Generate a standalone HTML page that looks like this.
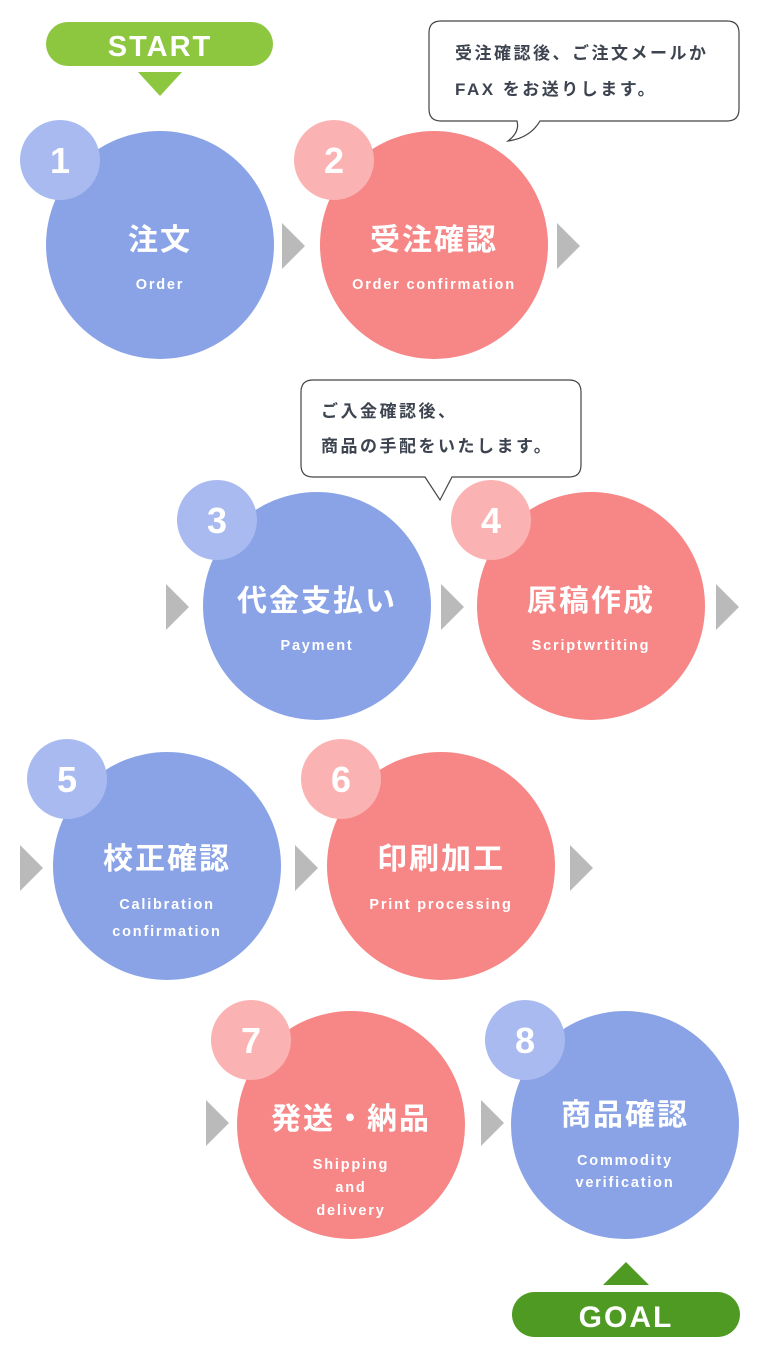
<!DOCTYPE html>
<html><head><meta charset="utf-8"><style>
html,body{margin:0;padding:0;background:#fff}
svg{display:block}
text{font-family:"Liberation Sans","Noto Sans CJK JP",sans-serif}
.j{font-size:30px;font-weight:bold;fill:#fff;text-anchor:middle;letter-spacing:2px}
.e{font-size:14.5px;font-weight:bold;fill:#fff;text-anchor:middle;letter-spacing:1.8px}
.n{font-size:36px;font-weight:bold;fill:#fff;text-anchor:middle}
.b{font-size:17px;fill:#3d4450;font-weight:bold;letter-spacing:2.5px}
</style></head><body>
<svg width="760" height="1357" viewBox="0 0 760 1357">
<rect x="46" y="22" width="227" height="44" rx="22" fill="#8dc63f"/>
<text x="160" y="56" font-size="29" font-weight="bold" fill="#fff" text-anchor="middle" letter-spacing="2" style="font-family:'Liberation Sans',sans-serif">START</text>
<polygon points="138,72 182,72 160,96" fill="#8dc63f"/>

<path d="M441,21 H727 Q739,21 739,33 V109 Q739,121 727,121 H540 Q530,138 508,141 Q520,132 517,121 H441 Q429,121 429,109 V33 Q429,21 441,21 Z" fill="#fff" stroke="#444" stroke-width="1.2"/>
<text class="b" x="455" y="59">受注確認後、ご注文メールか</text>
<text class="b" x="455" y="95">FAX をお送りします。</text>

<path d="M313,380 H569 Q581,380 581,392 V465 Q581,477 569,477 H452 L440,500 L425,477 H313 Q301,477 301,465 V392 Q301,380 313,380 Z" fill="#fff" stroke="#444" stroke-width="1.2"/>
<text class="b" x="321" y="417">ご入金確認後、</text>
<text class="b" x="321" y="452">商品の手配をいたします。</text>

<g fill="#bababa">
<polygon points="282,223 305,246 282,269"/>
<polygon points="557,223 580,246 557,269"/>
<polygon points="166,584 189,607 166,630"/>
<polygon points="441,584 464,607 441,630"/>
<polygon points="716,584 739,607 716,630"/>
<polygon points="20,845 43,868 20,891"/>
<polygon points="295,845 318,868 295,891"/>
<polygon points="570,845 593,868 570,891"/>
<polygon points="206,1100 229,1123 206,1146"/>
<polygon points="481,1100 504,1123 481,1146"/>
</g>

<circle cx="160" cy="245" r="114" fill="#8aa3e6"/>
<circle cx="60" cy="160" r="40" fill="#a9baf0"/>
<text class="n" x="60" y="173">1</text>
<text class="j" x="160" y="250">注文</text>
<text class="e" x="160" y="289">Order</text>

<circle cx="434" cy="245" r="114" fill="#f78686"/>
<circle cx="334" cy="160" r="40" fill="#fbb2b2"/>
<text class="n" x="334" y="173">2</text>
<text class="j" x="434" y="250">受注確認</text>
<text class="e" x="434" y="289">Order confirmation</text>

<circle cx="317" cy="606" r="114" fill="#8aa3e6"/>
<circle cx="217" cy="520" r="40" fill="#a9baf0"/>
<text class="n" x="217" y="533">3</text>
<text class="j" x="317" y="611">代金支払い</text>
<text class="e" x="317" y="650">Payment</text>

<circle cx="591" cy="606" r="114" fill="#f78686"/>
<circle cx="491" cy="520" r="40" fill="#fbb2b2"/>
<text class="n" x="491" y="533">4</text>
<text class="j" x="591" y="611">原稿作成</text>
<text class="e" x="591" y="650">Scriptwrtiting</text>

<circle cx="167" cy="866" r="114" fill="#8aa3e6"/>
<circle cx="67" cy="779" r="40" fill="#a9baf0"/>
<text class="n" x="67" y="792">5</text>
<text class="j" x="167" y="869">校正確認</text>
<text class="e" x="167" y="909">Calibration</text>
<text class="e" x="167" y="936">confirmation</text>

<circle cx="441" cy="866" r="114" fill="#f78686"/>
<circle cx="341" cy="779" r="40" fill="#fbb2b2"/>
<text class="n" x="341" y="792">6</text>
<text class="j" x="441" y="869">印刷加工</text>
<text class="e" x="441" y="909">Print processing</text>

<circle cx="351" cy="1125" r="114" fill="#f78686"/>
<circle cx="251" cy="1040" r="40" fill="#fbb2b2"/>
<text class="n" x="251" y="1053">7</text>
<text class="j" x="351" y="1129">発送・納品</text>
<text class="e" x="351" y="1169">Shipping</text>
<text class="e" x="351" y="1192">and</text>
<text class="e" x="351" y="1215">delivery</text>

<circle cx="625" cy="1125" r="114" fill="#8aa3e6"/>
<circle cx="525" cy="1040" r="40" fill="#a9baf0"/>
<text class="n" x="525" y="1053">8</text>
<text class="j" x="625" y="1125">商品確認</text>
<text class="e" x="625" y="1165">Commodity</text>
<text class="e" x="625" y="1187">verification</text>

<polygon points="603,1285 649,1285 626,1262" fill="#4e9a22"/>
<rect x="512" y="1292" width="228" height="45" rx="22.5" fill="#4e9a22"/>
<text x="626" y="1327" font-size="30" font-weight="bold" fill="#fff" text-anchor="middle" letter-spacing="2" style="font-family:'Liberation Sans',sans-serif">GOAL</text>
</svg>
</body></html>
